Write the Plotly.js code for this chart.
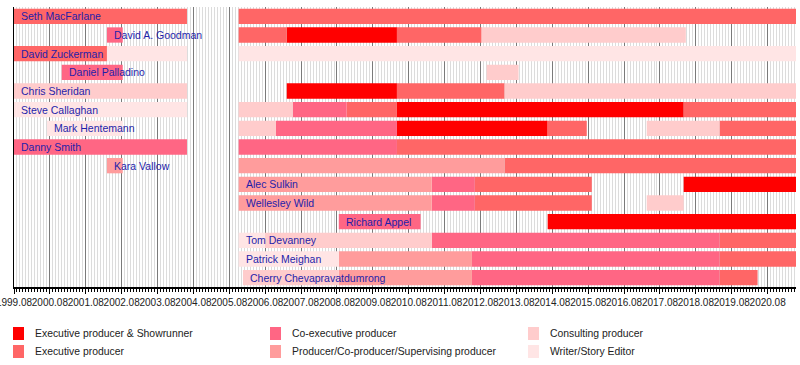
<!DOCTYPE html>
<html><head><meta charset="utf-8">
<script src="https://cdn.plot.ly/plotly-3.0.1.min.js"></script>
<style>html,body{margin:0;padding:0;background:#fff}#chart{width:800px;height:365px}</style>
</head><body><div id="chart"></div>
<script>
// ---------- DATA ----------
const people = ["Seth MacFarlane","David A. Goodman","David Zuckerman","Daniel Palladino","Chris Sheridan","Steve Callaghan","Mark Hentemann","Danny Smith","Kara Vallow","Alec Sulkin","Wellesley Wild","Richard Appel","Tom Devanney","Patrick Meighan","Cherry Chevapravatdumrong"];
const roles = ["Executive producer & Showrunner","Executive producer","Co-executive producer","Producer/Co-producer/Supervising producer","Consulting producer","Writer/Story Editor"];
const roleColors = ["#ff0000","#ff6666","#ff6684","#ff9c9c","#ffcccc","#ffe5e5"];
const tickLabels = ["1999.08","2000.08","2001.08","2002.08","2003.08","2004.08","2005.08","2006.08","2007.08","2008.08","2009.08","2010.08","2011.08","2012.08","2013.08","2014.08","2015.08","2016.08","2017.08","2018.08","2019.08","2020.08"];
// segments: person index, start, end (decimal years), role index
const segPerson = [0,0, 1,1,1,1,1, 2,2,2, 3,3, 4,4,4,4, 5,5,5,5,5,5, 6,6,6,6,6,6,6, 7,7,7, 8,8,8, 9,9,9,9, 10,10,10,10, 11,11, 12,12,12,12, 13,13,13,13, 14,14,14,14];
const segStart  = [1999.08,2005.34, 2001.67,2005.34,2006.68,2009.75,2012.11, 1999.08,2001.67,2005.34, 2000.41,2012.25, 1999.08,2006.68,2009.75,2012.75, 1999.08,2005.34,2006.85,2008.35,2009.75,2017.74, 2000.00,2005.34,2006.38,2009.75,2013.95,2016.71,2018.74, 1999.08,2005.34,2009.75, 2001.67,2005.34,2012.75, 2005.34,2010.72,2011.92,2017.74, 2005.34,2010.72,2011.92,2016.71, 2008.13,2013.95, 2005.34,2006.07,2010.72,2018.74, 2005.34,2008.13,2011.84,2018.74, 2005.46,2008.13,2011.84,2018.74];
const segEnd    = [2003.90,2020.87, 2002.11,2006.68,2009.75,2012.11,2017.80, 2001.67,2003.90,2020.87, 2002.11,2013.14, 2003.90,2009.75,2012.75,2020.87, 2003.90,2006.85,2008.35,2009.75,2017.74,2020.87, 2002.11,2006.38,2009.75,2013.95,2015.04,2018.74,2020.87, 2003.90,2009.75,2020.87, 2002.11,2012.75,2020.87, 2010.72,2011.92,2015.18,2020.87, 2010.72,2011.92,2015.18,2017.74, 2010.41,2020.87, 2006.07,2010.72,2018.74,2020.87, 2008.13,2011.84,2018.74,2020.87, 2008.13,2011.84,2018.74,2019.80];
const segRole   = [1,1, 2,1,0,1,4, 1,5,5, 2,4, 4,0,1,4, 5,4,2,1,0,1, 5,4,2,0,1,4,1, 2,2,1, 3,3,1, 3,2,1,0, 3,2,1,4, 2,0, 5,4,2,1, 5,3,2,1, 4,3,2,1];

// ---------- LAYOUT CONSTANTS ----------
const W = 800, H = 365, M = {l:14, r:4, t:7, b:78};
const pw = W - M.l - M.r, ph = H - M.t - M.b;
const px = x => (x - M.l) / pw;
const py = y => ((H - M.b) - y) / ph;

// ---------- TRACES ----------
const traces = roles.map((role, ri) => {
  const ys = [], xs = [], bs = [];
  segRole.forEach((r, i) => {
    if (r === ri) { ys.push(people[segPerson[i]]); bs.push(segStart[i]); xs.push(segEnd[i] - segStart[i]); }
  });
  return {type:'bar', orientation:'h', y:ys, x:xs, base:bs, width:0.82,
          marker:{color:roleColors[ri], line:{width:0}}, name:role, showlegend:false, hoverinfo:'skip'};
});

// name labels at first segment of each person
const nameFont = {family:'Arial, Liberation Sans, sans-serif', size:10.5, color:'#1e1eaa'};
const annotations = people.map((p, pi) => {
  let first = Infinity;
  segPerson.forEach((q, i) => { if (q === pi && segStart[i] < first) first = segStart[i]; });
  return {x:first, y:p, xref:'x', yref:'y', text:p, showarrow:false, xanchor:'left', yanchor:'middle', xshift:5, font:nameFont};
});

// custom legend
const legendCols = [13, 270, 528];
const legendRows = [333.5, 351.5];
const shapes = [];
roles.forEach((role, ri) => {
  const cx = legendCols[Math.floor(ri / 2)], cy = legendRows[ri % 2];
  shapes.push({type:'rect', xref:'paper', yref:'paper', x0:px(cx), x1:px(cx + 11), y0:py(cy - 6.5), y1:py(cy + 6.5),
               fillcolor:roleColors[ri], line:{width:0}, layer:'above'});
  annotations.push({xref:'paper', yref:'paper', x:px(cx + 20), y:py(cy), text:role, showarrow:false,
                    xanchor:'left', yanchor:'middle',
                    font:{family:'Arial, Liberation Sans, sans-serif', size:10.4, color:'#222'}});
});

const layout = {
  width:W, height:H, margin:M, paper_bgcolor:'#fff', plot_bgcolor:'#fff',
  barmode:'overlay', showlegend:false,
  xaxis:{type:'linear', range:[1999.08, 2020.87], tickmode:'array', tickvals:tickLabels.map(Number), ticktext:tickLabels,
         tickangle:0, ticklabeloverflow:'allow', ticks:'outside', ticklen:5, tickwidth:1, tickcolor:'#000',
         showgrid:true, gridcolor:'#7a7a7a', gridwidth:1,
         tickfont:{family:'Arial, Liberation Sans, sans-serif', size:10, color:'#222'},
         showline:true, linecolor:'#000', linewidth:2, zeroline:false, fixedrange:true,
         minor:{tick0:1999.08, dtick:1/12, ticks:'outside', ticklen:3, tickwidth:1, tickcolor:'#000', showgrid:true, gridcolor:'#dcdcdc', gridwidth:1}},
  yaxis:{type:'category', categoryorder:'array', categoryarray:people, range:[people.length - 0.5, -0.5],
         showticklabels:false, ticks:'', showgrid:false, zeroline:false, showline:true, linecolor:'#000', linewidth:1, fixedrange:true},
  annotations:annotations, shapes:shapes
};
Plotly.newPlot('chart', traces, layout, {staticPlot:true, displayModeBar:false});
</script></body></html>
